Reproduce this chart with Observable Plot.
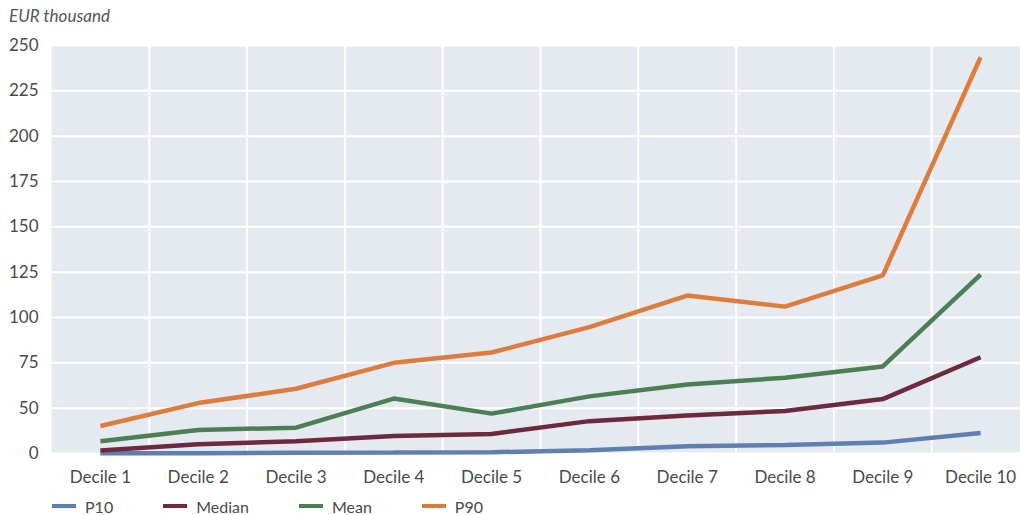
<!DOCTYPE html>
<html><head><meta charset="utf-8">
<script src="https://cdn.jsdelivr.net/npm/d3@7"></script>
<script src="https://cdn.jsdelivr.net/npm/@observablehq/plot@0.6"></script>
<style>
body{margin:0;background:#fff;font-family:Lato,"Open Sans",sans-serif;width:1020px;height:515px;position:relative;overflow:hidden}
#title{position:absolute;left:9px;top:5px;font-style:italic;font-size:17px;color:#555}
#chart{position:absolute;left:0;top:35px}
#legend{position:absolute;left:52px;top:495px;height:22px;display:flex;align-items:center;font-size:16px;color:#4a4a4a}
.item{display:flex;align-items:center;margin-right:50px}
.sw{width:24px;height:4px;margin-right:9px}
</style></head><body>
<div id="title">EUR thousand</div>
<div id="chart"></div>
<div id="legend"></div>
<script>
const deciles = ["Decile 1","Decile 2","Decile 3","Decile 4","Decile 5","Decile 6","Decile 7","Decile 8","Decile 9","Decile 10"];
const seriesNames = ["P10","Median","Mean","P90"];
const seriesColors = ["#5f7fae","#6d2a3f","#4d7f55","#dc7d3d"];
const p10    = [0.3, 0.3, 0.8, 1.0, 1.4, 3.6, 8.0, 9.4, 12.0, 22.6];
const median = [3.3, 10.2, 13.5, 19.3, 21.5, 35.7, 42.0, 46.9, 55.0, 78.1];
const mean   = [13.5, 26.0, 28.5, 55.3, 44.0, 56.5, 63.1, 66.8, 73.0, 123.6];
const p90    = [30.3, 52.8, 60.7, 75.0, 80.7, 94.7, 112.1, 106.0, 123.2, 243.5];
const yTickValues = [0, 50, 75, 100, 125, 150, 175, 200, 225, 250];

// The reference axis places 0 and 50 one gridline apart (no 25 line): piecewise scale
const warp = v => v < 50 ? v / 2 : v - 25;

const seriesValues = [p10, median, mean, p90];
const rows = [];
seriesNames.forEach((s, k) => seriesValues[k].forEach((v, i) => rows.push({series: s, i: i + 1, value: v})));

const gridXPos = deciles.slice(1).map((_, i) => i + 1.5);

const chart = Plot.plot({
  width: 1020,
  height: 455,
  marginLeft: 51,
  marginRight: 0,
  marginTop: 10,
  marginBottom: 37,
  style: {fontFamily: "Lato, 'Open Sans', sans-serif", fontSize: "16px", color: "#4a4a4a", background: "transparent"},
  x: {type: "linear", domain: [0.5, 10.5], range: [51, 1029], axis: null},
  y: {domain: [0, 225], axis: null},
  color: {domain: seriesNames, range: seriesColors},
  marks: [
    Plot.frame({fill: "#e5e9f0", stroke: null}),
    Plot.gridY(yTickValues.map(warp), {stroke: "white", strokeOpacity: 1, strokeWidth: 2}),
    Plot.ruleX(gridXPos, {stroke: "white", strokeWidth: 2}),
    Plot.axisY(yTickValues.map(warp), {tickSize: 0, tickPadding: 13, fontSize: 17,
      tickFormat: t => String(yTickValues.find(v => warp(v) === t)), label: null}),
    Plot.axisX(deciles.map((_, i) => i + 1), {tickSize: 0, tickPadding: 17, fontSize: 17,
      tickFormat: t => deciles[t - 1], label: null}),
    Plot.line(rows, {x: "i", y: d => warp(d.value), z: "series", stroke: "series",
      strokeWidth: 4.5, strokeLinecap: "butt", strokeLinejoin: "miter"})
  ]
});
document.getElementById("chart").appendChild(chart);

const legend = document.getElementById("legend");
seriesNames.forEach((s, k) => {
  const it = document.createElement("div");
  it.className = "item";
  const sw = document.createElement("div");
  sw.className = "sw";
  sw.style.background = seriesColors[k];
  const tx = document.createElement("span");
  tx.textContent = s;
  it.appendChild(sw); it.appendChild(tx);
  legend.appendChild(it);
});
</script>
</body></html>
